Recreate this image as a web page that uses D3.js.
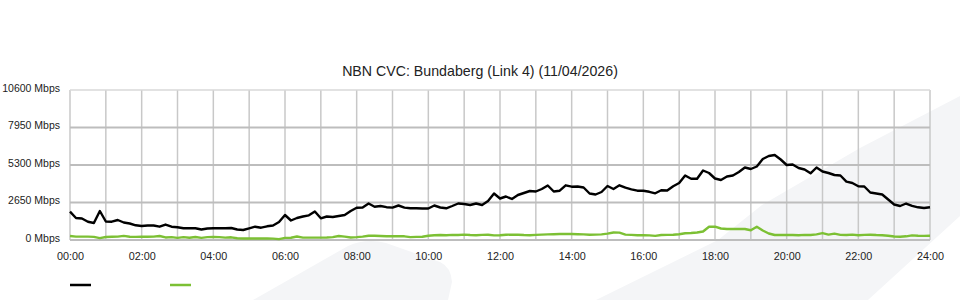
<!DOCTYPE html>
<html>
<head>
<meta charset="utf-8">
<script src="https://cdn.jsdelivr.net/npm/d3@7"></script>
<style>
  html, body { margin: 0; padding: 0; background: #fff; }
  svg { display: block; font-family: "Liberation Sans", Arial, sans-serif; }
</style>
</head>
<body>
<svg id="chart" width="960" height="300"></svg>
<script>
// ---- data ----
const title = "NBN CVC: Bundaberg (Link 4) (11/04/2026)";
const stepMinutes = 10; // one sample every 10 minutes, 00:00 .. 24:00
const xTickHours = [0, 2, 4, 6, 8, 10, 12, 14, 16, 18, 20, 22, 24];
const xTickLabels = ["00:00","02:00","04:00","06:00","08:00","10:00","12:00","14:00","16:00","18:00","20:00","22:00","24:00"];
const yTicks = [0, 2650, 5300, 7950, 10600];
const yTickLabels = ["0 Mbps", "2650 Mbps", "5300 Mbps", "7950 Mbps", "10600 Mbps"];
const seriesNames = ["", ""];

// download traffic (Mbps)
const downMbps = [
  2000,1555,1519,1293,1201,2049,1307,1293,1413,1237,
  1166,1039, 989,1025,1025, 940,1095, 940, 897, 827,
   827, 827, 742, 813, 827, 827, 827, 848, 742, 707,
   827, 940, 869, 968,1025,1272,1767,1378,1555,1661,
  1745,2014,1533,1661,1625,1696,1767,2049,2283,2297,
  2579,2353,2403,2318,2290,2438,2290,2240,2240,2226,
  2226,2438,2297,2240,2403,2579,2544,2473,2579,2473,
  2756,3286,2933,3074,2897,3180,3321,3463,3427,3604,
  3851,3427,3484,3865,3767,3781,3710,3286,3215,3392,
  3816,3604,3865,3696,3583,3484,3484,3406,3300,3519,
  3498,3802,4028,4558,4325,4325,4911,4735,4346,4240,
  4487,4558,4805,5123,5017,5194,5724,5936,6007,5689,
  5300,5335,5088,4982,4713,5123,4841,4735,4593,4558,
  4120,4028,3795,3781,3357,3286,3215,2862,2509,2403,
  2579,2417,2311,2261,2311
];

// upload traffic (Mbps)
const upMbps = [
  280,240,240,235,220,130,215,225,235,290,
  230,220,225,230,240,280,180,200,150,200,
  160,210,150,200,220,200,170,190,120,110,
  110,110,110,110,100, 60,150,160,250,170,
  170,170,170,180,200,280,240,180,200,240,
  300,300,280,260,260,260,260,200,220,230,
  300,340,350,340,360,350,380,350,340,360,
  370,330,340,370,380,370,350,340,360,380,
  400,410,420,420,420,410,400,370,380,400,
  450,530,520,380,360,340,340,330,290,350,
  360,370,403,473,495,530,600,940,940,813,
  777,777,777,777,686,940,671,459,353,353,
  353,353,340,360,350,400,490,380,450,360,
  350,380,340,360,370,350,340,300,250,233,
  260,330,300,290,300
];

const seriesColors = ["#000000", "#7cc034"];

// ---- layout ----
const svg = d3.select("#chart");
const plotLeft = 70, plotRight = 930, plotTop = 90, plotBottom = 240;

// decorative background watermark
const bg = svg.append("g");
bg.append("path")
  .attr("d", "M253,300 L348,246 Q366,238 386,243 L440,262 Q451,267 452,282 L448,300 Z")
  .attr("fill", "#f4f5f7");
bg.append("path")
  .attr("d", "M596,300 L718,240 L762,205 L860,148 L960,96 L960,216 L868,300 Z")
  .attr("fill", "#f4f5f7");

const x = d3.scaleLinear().domain([0, 24]).range([plotLeft, plotRight]);
const y = d3.scaleLinear().domain([0, 10600]).range([plotBottom, plotTop]);

const hours = d3.range(downMbps.length).map(i => i * stepMinutes / 60);

// grid
const grid = svg.append("g");
grid.selectAll("line.v")
  .data(d3.range(0, 25))
  .join("line")
  .attr("class", "v")
  .attr("x1", d => x(d)).attr("x2", d => x(d))
  .attr("y1", plotTop).attr("y2", plotBottom)
  .attr("stroke", "#c8c8c8").attr("stroke-width", 1.5);
grid.selectAll("line.h")
  .data(yTicks)
  .join("line")
  .attr("class", "h")
  .attr("x1", plotLeft).attr("x2", plotRight)
  .attr("y1", d => y(d)).attr("y2", d => y(d))
  .attr("stroke", d => d === 10600 ? "#d8d8d8" : "#bdbdbd")
  .attr("stroke-width", d => d === 10600 ? 1.5 : 2);

// title
svg.append("text")
  .attr("x", 480).attr("y", 76)
  .attr("text-anchor", "middle")
  .attr("font-size", 14.2)
  .attr("fill", "#222")
  .text(title);

// y axis labels
const yAxis = d3.axisLeft(y).tickValues(yTicks)
  .tickFormat((d, i) => yTickLabels[i]).tickSize(0).tickPadding(10);
const yg = svg.append("g").attr("transform", `translate(${plotLeft},-2)`).call(yAxis);
yg.select(".domain").remove();
yg.selectAll("text").attr("font-size", 10.5).attr("fill", "#222")
  .attr("font-family", "Liberation Sans, Arial, sans-serif");

// x axis labels
const xAxis = d3.axisBottom(x).tickValues(xTickHours)
  .tickFormat((d, i) => xTickLabels[i]).tickSize(0).tickPadding(12);
const xg = svg.append("g").attr("transform", `translate(0,${plotBottom + 0.5})`).call(xAxis);
xg.select(".domain").remove();
xg.selectAll("text").attr("font-size", 10.8).attr("fill", "#222")
  .attr("font-family", "Liberation Sans, Arial, sans-serif");

// lines
const line = d3.line().x((d, i) => x(hours[i])).y(d => y(d));
[[upMbps, seriesColors[1]], [downMbps, seriesColors[0]]].forEach(([s, c]) => {
  svg.append("path")
    .datum(s)
    .attr("fill", "none")
    .attr("stroke", c)
    .attr("stroke-width", 2.4)
    .attr("stroke-linejoin", "round")
    .attr("d", line);
});

// legend (swatches only)
const legend = svg.append("g");
legend.selectAll("line")
  .data(seriesColors)
  .join("line")
  .attr("x1", (d, i) => 70 + i * 100)
  .attr("x2", (d, i) => 91 + i * 100)
  .attr("y1", 285).attr("y2", 285)
  .attr("stroke", d => d)
  .attr("stroke-width", 2.5);
legend.selectAll("text")
  .data(seriesNames)
  .join("text")
  .attr("x", (d, i) => 96 + i * 100)
  .attr("y", 289)
  .attr("font-size", 11)
  .text(d => d);
</script>
</body>
</html>
